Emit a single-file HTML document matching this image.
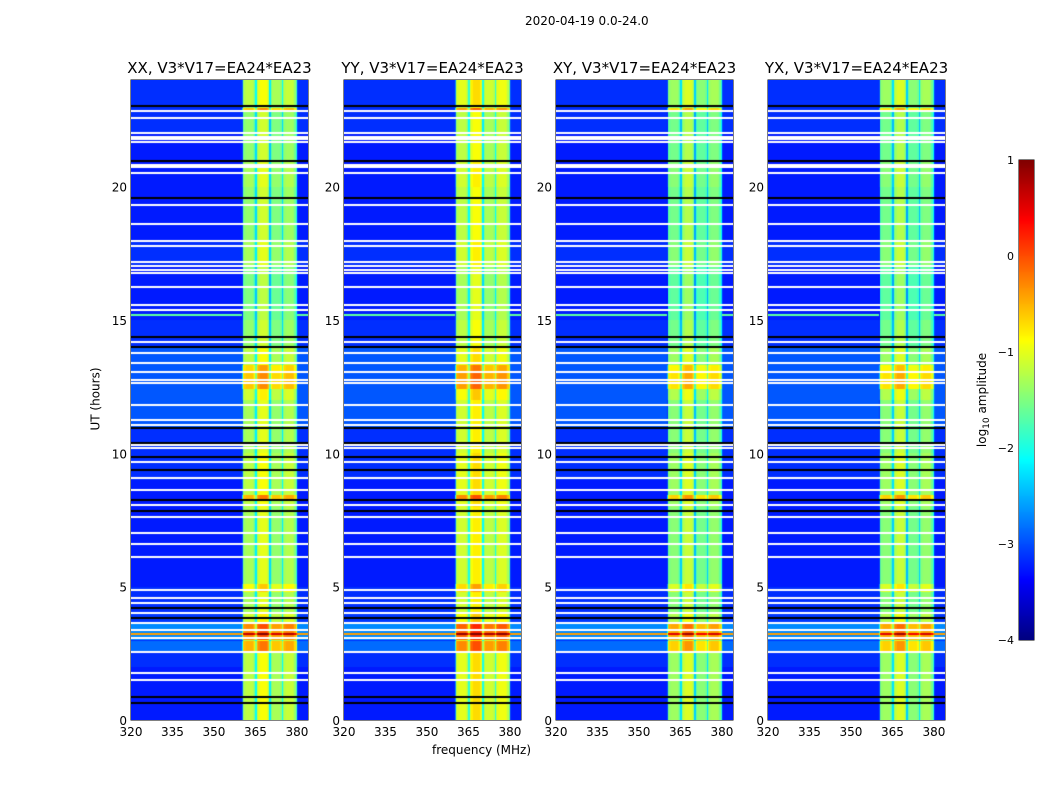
<!DOCTYPE html>
<html><head><meta charset="utf-8"><style>
body{margin:0;background:#fff;width:1050px;height:800px;position:relative;overflow:hidden;font-family:"DejaVu Sans","Liberation Sans",sans-serif;color:#000}
.t{position:absolute;white-space:nowrap;font-size:12px}
canvas{position:absolute}
svg text{font-family:"DejaVu Sans","Liberation Sans",sans-serif}
</style></head><body>
<div class="t" style="left:525px;top:14px">2020-04-19 0.0-24.0</div>
<div class="t" style="left:432px;top:743px">frequency (MHz)</div>
<div class="t" style="left:64px;top:392px;transform:rotate(-90deg)">UT (hours)</div>
<svg id="svg" width="1050" height="800" style="position:absolute;left:0;top:0"></svg>
<script>
// ---- data ----
const panelTitles=["XX, V3*V17=EA24*EA23","YY, V3*V17=EA24*EA23","XY, V3*V17=EA24*EA23","YX, V3*V17=EA24*EA23"];
const panelBandShift=[0,0.2,-0.15,-0.15];
// log10 amplitude per 0.5-MHz channel, 320..384 MHz
const freqBase=[
-3.25,-3.25,-3.25,-3.25,-3.25,-3.25,-3.25,-3.25,-3.25,-3.25,-3.25,-3.25,-3.25,-3.25,-3.25,-3.25,-3.25,-3.25,-3.25,-3.25,
-3.25,-3.25,-3.25,-3.25,-3.25,-3.25,-3.25,-3.25,-3.25,-3.25,-3.25,-3.25,-3.25,-3.25,-3.25,-3.25,-3.25,-3.25,-3.25,-3.25,
-3.25,-3.25,-3.25,-3.25,-3.25,-3.25,-3.25,-3.25,-3.25,-3.25,-3.25,-3.25,-3.25,-3.25,-3.25,-3.25,-3.25,-3.25,-3.25,-3.25,
-3.25,-3.25,-3.25,-3.25,-3.25,-3.25,-3.25,-3.25,-3.25,-3.25,-3.25,-3.25,-3.25,-3.25,-3.25,-3.25,-3.25,-3.25,-3.25,-3.25,
-3.0,-1.5,-1.35,-1.3,-1.3,-1.3,-1.3,-1.3,-1.4,-1.6,-2.2,-1.3,-1.1,-1.0,-1.0,-1.0,-1.0,-1.0,-1.1,-1.3,
-2.3,-1.6,-1.4,-1.4,-1.4,-1.4,-1.4,-1.4,-1.5,-2.2,-1.5,-1.3,-1.25,-1.25,-1.25,-1.25,-1.25,-1.3,-1.5,-1.9,
-3.1,-3.25,-3.25,-3.25,-3.25,-3.25,-3.25,-3.25];
const bgHourly=[0,0,0.1,0.15,0.1,0,0,0,0,0.1,0.1,0.3,0.3,0.3,0.1,0,0,0.1,0,0,0,0,0.1,0.1];
const bandHourly=[0.1,0.1,0.1,0.2,0,0,0,0,0.1,0.1,0,0,0.2,0.1,-0.1,-0.2,-0.2,0,-0.1,-0.1,0,-0.1,-0.1,0.1];
// [start h, end h, band add, background add]
const events=[[2.6,2.95,0.7,0.3],[3.0,3.6,0.8,0.4],[3.2,3.27,1.0,2.3],[8.3,8.42,0.7,0],[12.4,13.3,0.5,0],[22.8,22.95,0.8,0],[4.8,5.1,0.4,0],[15.15,15.22,0,1.6]];
const whiteFlags=[22.85,22.57,22.01,21.86,21.79,21.67,20.81,20.74,20.51,19.31,18.6,17.96,17.77,17.17,17.02,16.87,16.76,16.24,15.56,15.37,14.17,13.76,13.39,13.05,12.75,12.64,11.81,11.25,11.06,10.31,10.2,9.67,9.07,8.62,8.06,7.61,7.01,6.6,6.11,4.87,4.57,4.39,4.01,3.64,3.37,3.07,2.55,1.76,1.5];
const blackFlags=[23.02,20.96,19.57,14.36,13.99,10.95,10.39,9.86,9.37,8.25,7.84,4.2,3.82,0.86,0.64];
const xTicks=[320,335,350,365,380];
const yTicks=[0,5,10,15,20];
const cbTicks=[1,0,-1,-2,-3,-4];
// ---- layout ----
const panelX=[131,344,556,768], PW=177, PT=80, PB=720, F0=320, F1=384, T1=24, VMIN=-4, VMAX=1, CH=0.5;
const fx=(f,x0)=>x0+(f-F0)/(F1-F0)*PW;
const ty=h=>PB-h/T1*(PB-PT);
function jet(v){let t=Math.max(0,Math.min(1,(v-VMIN)/(VMAX-VMIN)));
 const c=x=>Math.round(255*Math.max(0,Math.min(1,x)));
 return [c(1.5-Math.abs(4*t-3)),c(1.5-Math.abs(4*t-2)),c(1.5-Math.abs(4*t-1))];}
const svg=document.getElementById('svg');const NS='http://www.w3.org/2000/svg';
function add(tag,at,txt){const e=document.createElementNS(NS,tag);for(const k in at)e.setAttribute(k,at[k]);if(txt!==undefined)e.textContent=txt;svg.appendChild(e);return e;}
panelX.forEach((x0,p)=>{
 const cv=document.createElement('canvas');cv.width=PW;cv.height=PB-PT;cv.style.left=x0+'px';cv.style.top=PT+'px';
 
 
 document.body.appendChild(cv);
 const ctx=cv.getContext('2d');const img=ctx.createImageData(PW,PB-PT);
 for(let y=0;y<PB-PT;y++){
  const h=(PB-PT-y-0.5)/(PB-PT)*T1;
  const hi=Math.min(23,Math.floor(h));
  let flag=0;
  for(const w of whiteFlags) if(Math.abs(ty(w)-(PT+y+0.5))<1.0) flag=1;
  for(const b of blackFlags) if(Math.abs(ty(b)-(PT+y+0.5))<0.8) flag=2;
  let bAdd=bandHourly[hi]+panelBandShift[p], gAdd=bgHourly[hi];
  for(const e of events) if(h>=e[0]&&h<e[1]){bAdd+=e[2];gAdd+=e[3];}
  for(let x=0;x<PW;x++){
   const f=F0+(x+0.5)/PW*(F1-F0);const base=freqBase[Math.min(freqBase.length-1,Math.floor((f-F0)/CH))];
   const inBand=base>-3.05;
   let col;
   if(flag==1)col=[255,255,255];else if(flag==2)col=[0,0,0];
   else col=jet(base+(inBand?bAdd:gAdd));
   const i=(y*PW+x)*4;img.data[i]=col[0];img.data[i+1]=col[1];img.data[i+2]=col[2];img.data[i+3]=255;}
 }
 ctx.putImageData(img,0,0);
 const fr=add('rect',{x:x0,y:PT,width:PW,height:PB-PT,fill:'none',stroke:'#000','stroke-width':1});
 
 
 const tt=add('text',{x:x0+PW/2,y:PT-7,'text-anchor':'middle','font-size':15},panelTitles[p]);
 
 
 xTicks.forEach(v=>{const X=fx(v,x0);add('line',{x1:X,x2:X,y1:PB,y2:PB-4,stroke:'#000'});
  const l=add('text',{x:X,y:PB+16,'text-anchor':'middle','font-size':12},v);
  
  });
 yTicks.forEach(v=>{const Y=ty(v);add('line',{x1:x0,x2:x0+4,y1:Y,y2:Y,stroke:'#000'});
  const l=add('text',{x:x0-4,y:Y+5,'text-anchor':'end','font-size':12},v);
  
  });
});
// colorbar
const CBX=1019,CBW=15,CBT=160,CBB=640;
const cb=document.createElement('canvas');cb.width=CBW;cb.height=CBB-CBT;cb.style.left=CBX+'px';cb.style.top=CBT+'px';


document.body.appendChild(cb);
const cctx=cb.getContext('2d');
for(let y=0;y<CBB-CBT;y++){const v=VMAX-(y+0.5)/(CBB-CBT)*(VMAX-VMIN);const c=jet(v);cctx.fillStyle=`rgb(${c})`;cctx.fillRect(0,y,CBW,1);}
add('rect',{x:CBX,y:CBT,width:CBW,height:CBB-CBT,fill:'none',stroke:'#000'});
cbTicks.forEach(v=>{const Y=CBT+(VMAX-v)/(VMAX-VMIN)*(CBB-CBT);
 add('line',{x1:CBX+CBW-4,x2:CBX+CBW,y1:Y,y2:Y,stroke:'#000'});
 const l=add('text',{x:CBX-5,y:Y+4,'text-anchor':'end','font-size':11},(v<0?'\u2212':'')+Math.abs(v));
 
 });
const cl=add('text',{x:986,y:400,'text-anchor':'middle','font-size':12,transform:'rotate(-90 986 400)'});


cl.innerHTML='log<tspan font-size="9" dy="3">10</tspan><tspan dy="-3"> amplitude</tspan>';
</script>
</body></html>
